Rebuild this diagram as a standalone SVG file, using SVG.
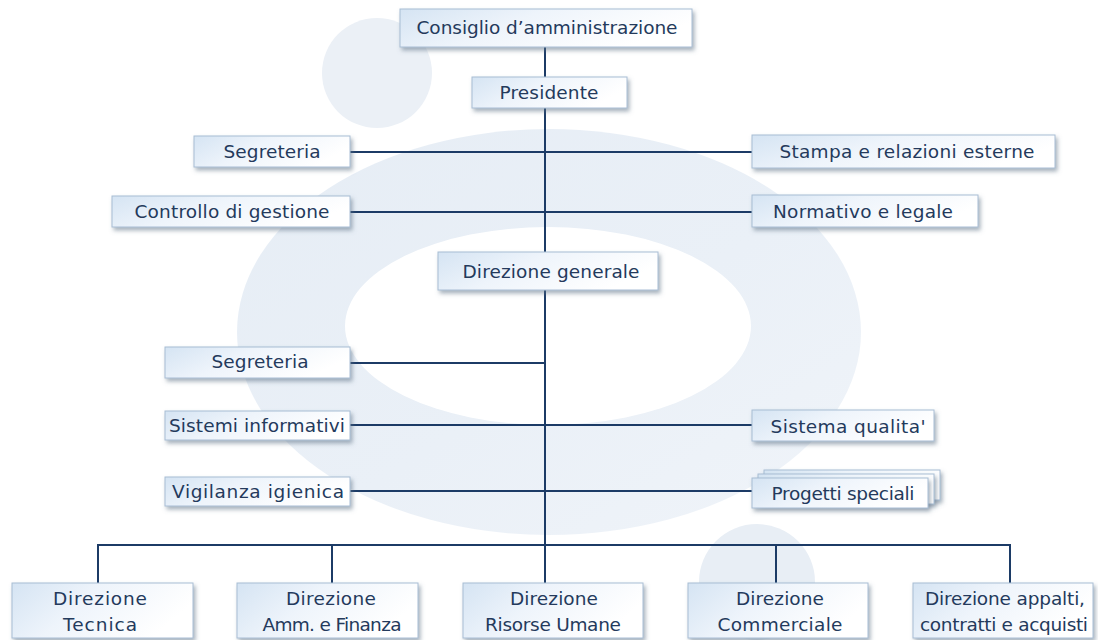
<svg xmlns="http://www.w3.org/2000/svg" width="1098" height="640" viewBox="0 0 1098 640">
  <defs>
    <linearGradient id="boxFill" x1="0" y1="0" x2="1" y2="0.35">
      <stop offset="0" stop-color="#d5e4f3"/>
      <stop offset="0.45" stop-color="#eef4fb"/>
      <stop offset="1" stop-color="#ffffff"/>
    </linearGradient>
    <linearGradient id="ringFill" x1="0" y1="0" x2="1" y2="1">
      <stop offset="0" stop-color="#e6edf5"/>
      <stop offset="0.55" stop-color="#eaf0f7"/>
      <stop offset="1" stop-color="#f0f4f9"/>
    </linearGradient>
    <filter id="shadow" x="-10%" y="-30%" width="125%" height="170%">
      <feDropShadow dx="2" dy="3" stdDeviation="2" flood-color="#5d6f85" flood-opacity="0.55"/>
    </filter>
    <style>
      .box { fill: url(#boxFill); stroke: #a8bdd4; stroke-width: 1; filter: url(#shadow); }
      .lbl { font-family: "DejaVu Sans", "Liberation Sans", sans-serif; font-size: 18.5px; fill: #243a5c; text-anchor: middle; }
      .link { stroke: #1c3b66; stroke-width: 2; fill: none; }
    </style>
  </defs>

  <!-- background decoration -->
  <rect width="1098" height="640" fill="#ffffff"/>
  <g id="background">
    <ellipse cx="549" cy="332" rx="312" ry="203" fill="url(#ringFill)"/>
    <ellipse cx="548" cy="326" rx="203" ry="99" fill="#ffffff"/>
    <circle cx="377" cy="73" r="55" fill="#ebf0f6"/>
    <circle cx="757" cy="582" r="58" fill="#e8eef5"/>
  </g>

  <!-- connectors -->
  <g id="connectors">
    <line class="link" x1="545" y1="47" x2="545" y2="583"/>
    <line class="link" x1="350" y1="152" x2="752" y2="152"/>
    <line class="link" x1="350" y1="212" x2="752" y2="212"/>
    <line class="link" x1="350" y1="363" x2="545" y2="363"/>
    <line class="link" x1="350" y1="425" x2="752" y2="425"/>
    <line class="link" x1="350" y1="491" x2="752" y2="491"/>
    <polyline class="link" points="98,583 98,545 1010,545 1010,583"/>
    <line class="link" x1="332" y1="545" x2="332" y2="583"/>
    <line class="link" x1="776" y1="545" x2="776" y2="583"/>
  </g>

  <!-- nodes -->
  <g id="cda">
    <rect class="box" x="400" y="9" width="292" height="38"/>
    <text class="lbl" x="547" y="34" textLength="261" lengthAdjust="spacing">Consiglio d’amministrazione</text>
  </g>
  <g id="presidente">
    <rect class="box" x="472" y="77" width="155" height="31"/>
    <text class="lbl" x="549" y="99" textLength="99" lengthAdjust="spacing">Presidente</text>
  </g>
  <g id="segreteria-presidenza">
    <rect class="box" x="194" y="136" width="156" height="31"/>
    <text class="lbl" x="272" y="158" textLength="97" lengthAdjust="spacing">Segreteria</text>
  </g>
  <g id="stampa">
    <rect class="box" x="752" y="135" width="303" height="33"/>
    <text class="lbl" x="907" y="158" textLength="255" lengthAdjust="spacing">Stampa e relazioni esterne</text>
  </g>
  <g id="controllo">
    <rect class="box" x="112" y="196" width="238" height="31"/>
    <text class="lbl" x="232" y="218" textLength="195" lengthAdjust="spacing">Controllo di gestione</text>
  </g>
  <g id="normativo">
    <rect class="box" x="752" y="195" width="226" height="32"/>
    <text class="lbl" x="863" y="218" textLength="180" lengthAdjust="spacing">Normativo e legale</text>
  </g>
  <g id="direzione-generale">
    <rect class="box" x="438" y="252" width="220" height="38"/>
    <text class="lbl" x="551" y="278" textLength="177" lengthAdjust="spacing">Direzione generale</text>
  </g>
  <g id="segreteria-direzione">
    <rect class="box" x="165" y="347" width="185" height="31"/>
    <text class="lbl" x="260" y="368" textLength="97" lengthAdjust="spacing">Segreteria</text>
  </g>
  <g id="sistemi">
    <rect class="box" x="165" y="411" width="185" height="29"/>
    <text class="lbl" x="257" y="432" textLength="176" lengthAdjust="spacing">Sistemi informativi</text>
  </g>
  <g id="qualita">
    <rect class="box" x="752" y="410" width="182" height="31"/>
    <text class="lbl" x="848" y="433" textLength="155" lengthAdjust="spacing">Sistema qualita'</text>
  </g>
  <g id="vigilanza">
    <rect class="box" x="165" y="477" width="185" height="29"/>
    <text class="lbl" x="258" y="498" textLength="172" lengthAdjust="spacing">Vigilanza igienica</text>
  </g>
  <g id="progetti">
    <rect class="box" x="764" y="470" width="176" height="30"/>
    <rect class="box" x="758" y="474" width="176" height="30"/>
    <rect class="box" x="752" y="478" width="176" height="30"/>
    <text class="lbl" x="843" y="500" textLength="143" lengthAdjust="spacing">Progetti speciali</text>
  </g>
  <g id="dir-tecnica">
    <rect class="box" x="12" y="583" width="181" height="55"/>
    <text class="lbl" x="100" y="605" textLength="94" lengthAdjust="spacing">Direzione</text>
    <text class="lbl" x="100" y="631" textLength="74" lengthAdjust="spacing">Tecnica</text>
  </g>
  <g id="dir-amm-finanza">
    <rect class="box" x="237" y="583" width="181" height="55"/>
    <text class="lbl" x="331" y="605" textLength="90" lengthAdjust="spacing">Direzione</text>
    <text class="lbl" x="332" y="631" textLength="139" lengthAdjust="spacing">Amm. e Finanza</text>
  </g>
  <g id="dir-risorse-umane">
    <rect class="box" x="463" y="583" width="180" height="55"/>
    <text class="lbl" x="554" y="605" textLength="88" lengthAdjust="spacing">Direzione</text>
    <text class="lbl" x="553" y="631" textLength="136" lengthAdjust="spacing">Risorse Umane</text>
  </g>
  <g id="dir-commerciale">
    <rect class="box" x="688" y="583" width="180" height="55"/>
    <text class="lbl" x="780" y="605" textLength="88" lengthAdjust="spacing">Direzione</text>
    <text class="lbl" x="780" y="631" textLength="125" lengthAdjust="spacing">Commerciale</text>
  </g>
  <g id="dir-appalti">
    <rect class="box" x="913" y="583" width="180" height="55"/>
    <text class="lbl" x="1005" y="605" textLength="160" lengthAdjust="spacing">Direzione appalti,</text>
    <text class="lbl" x="1004" y="631" textLength="168" lengthAdjust="spacing">contratti e acquisti</text>
  </g>
</svg>
